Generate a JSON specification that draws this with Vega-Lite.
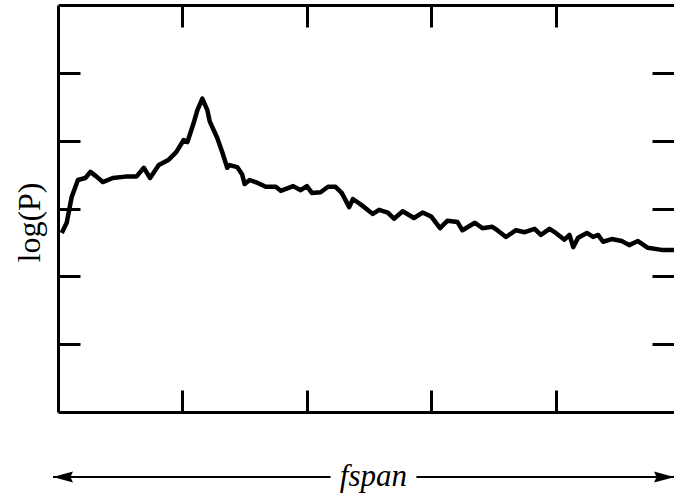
{
  "$schema": "https://vega.github.io/schema/vega-lite/v6.json",
  "width": 616,
  "height": 407,
  "autosize": {"type": "none"},
  "padding": {"left": 58, "top": 5, "right": 0, "bottom": 89},
  "background": "white",
  "config": {
    "view": {"stroke": null},
    "axis": {
      "labels": false,
      "grid": false,
      "ticks": true,
      "tickSize": -22,
      "tickWidth": 3,
      "tickColor": "black",
      "domainColor": "black",
      "domainWidth": 3,
      "titleFont": "Liberation Serif",
      "titleFontWeight": "normal",
      "titleColor": "black"
    }
  },
  "datasets": {
    "spectrum": [
      {"x": 0.03, "y": 2.64}, {"x": 0.07, "y": 2.79}, {"x": 0.11, "y": 3.17}, {"x": 0.16, "y": 3.42},
      {"x": 0.22, "y": 3.45}, {"x": 0.26, "y": 3.54}, {"x": 0.31, "y": 3.47}, {"x": 0.36, "y": 3.39},
      {"x": 0.44, "y": 3.45}, {"x": 0.54, "y": 3.47}, {"x": 0.63, "y": 3.47}, {"x": 0.69, "y": 3.60},
      {"x": 0.74, "y": 3.45}, {"x": 0.81, "y": 3.64}, {"x": 0.89, "y": 3.72}, {"x": 0.95, "y": 3.83},
      {"x": 1.01, "y": 4.01}, {"x": 1.04, "y": 3.98}, {"x": 1.09, "y": 4.26}, {"x": 1.12, "y": 4.45},
      {"x": 1.16, "y": 4.62}, {"x": 1.20, "y": 4.45}, {"x": 1.22, "y": 4.28}, {"x": 1.28, "y": 4.04},
      {"x": 1.32, "y": 3.83}, {"x": 1.36, "y": 3.60}, {"x": 1.38, "y": 3.64}, {"x": 1.44, "y": 3.61},
      {"x": 1.48, "y": 3.50}, {"x": 1.50, "y": 3.36}, {"x": 1.54, "y": 3.42}, {"x": 1.60, "y": 3.38},
      {"x": 1.67, "y": 3.32}, {"x": 1.75, "y": 3.32}, {"x": 1.79, "y": 3.26}, {"x": 1.89, "y": 3.33},
      {"x": 1.95, "y": 3.27}, {"x": 2.00, "y": 3.33}, {"x": 2.04, "y": 3.23}, {"x": 2.11, "y": 3.24},
      {"x": 2.17, "y": 3.32}, {"x": 2.23, "y": 3.32}, {"x": 2.28, "y": 3.23}, {"x": 2.34, "y": 3.02},
      {"x": 2.37, "y": 3.14}, {"x": 2.44, "y": 3.05}, {"x": 2.53, "y": 2.92}, {"x": 2.58, "y": 2.98},
      {"x": 2.65, "y": 2.94}, {"x": 2.70, "y": 2.85}, {"x": 2.77, "y": 2.96}, {"x": 2.86, "y": 2.86},
      {"x": 2.93, "y": 2.94}, {"x": 3.00, "y": 2.88}, {"x": 3.07, "y": 2.71}, {"x": 3.13, "y": 2.82},
      {"x": 3.21, "y": 2.80}, {"x": 3.25, "y": 2.68}, {"x": 3.35, "y": 2.79}, {"x": 3.41, "y": 2.71},
      {"x": 3.49, "y": 2.73}, {"x": 3.53, "y": 2.68}, {"x": 3.60, "y": 2.58}, {"x": 3.68, "y": 2.68},
      {"x": 3.75, "y": 2.65}, {"x": 3.83, "y": 2.70}, {"x": 3.88, "y": 2.61}, {"x": 3.95, "y": 2.70},
      {"x": 4.00, "y": 2.64}, {"x": 4.07, "y": 2.54}, {"x": 4.11, "y": 2.61}, {"x": 4.14, "y": 2.43},
      {"x": 4.18, "y": 2.57}, {"x": 4.25, "y": 2.64}, {"x": 4.30, "y": 2.58}, {"x": 4.34, "y": 2.61},
      {"x": 4.38, "y": 2.51}, {"x": 4.45, "y": 2.55}, {"x": 4.53, "y": 2.52}, {"x": 4.59, "y": 2.46},
      {"x": 4.66, "y": 2.52}, {"x": 4.74, "y": 2.42}, {"x": 4.85, "y": 2.39}, {"x": 4.95, "y": 2.39}
    ],
    "arrowLine": [
      {"x": -0.04, "x2": 2.19, "y": -0.96},
      {"x": 2.88, "x2": 4.95, "y": -0.96}
    ],
    "arrowHeads": [
      {"x": 0.04, "y": -0.96, "dir": "left"},
      {"x": 4.87, "y": -0.96, "dir": "right"}
    ],
    "axisLabel": [
      {"x": 2.535, "y": -0.96, "label": "fspan"}
    ]
  },
  "layer": [
    {
      "data": {"name": "spectrum"},
      "mark": {"type": "line", "color": "black", "strokeWidth": 4.5, "strokeJoin": "round"},
      "encoding": {
        "x": {"field": "x", "type": "quantitative", "scale": {"domain": [0, 4.95], "nice": false, "zero": false},
              "axis": {"orient": "bottom", "values": [1, 2, 3, 4], "title": null}},
        "y": {"field": "y", "type": "quantitative", "scale": {"domain": [0, 6], "nice": false},
              "axis": {"orient": "left", "values": [1, 2, 3, 4, 5], "title": "log(P)",
                       "titleFontSize": 32, "titleAngle": -90, "titleX": -29, "titleY": 217,
                       "titleAlign": "center", "titleBaseline": "middle"}}
      }
    },
    {
      "data": {"name": "arrowLine"},
      "mark": {"type": "rule", "color": "black", "strokeWidth": 2},
      "encoding": {
        "x": {"field": "x", "type": "quantitative", "scale": {"domain": [0, 4.95], "nice": false, "zero": false},
              "axis": {"orient": "top", "values": [1, 2, 3, 4], "title": null}},
        "x2": {"field": "x2"},
        "y": {"field": "y", "type": "quantitative", "scale": {"domain": [0, 6], "nice": false},
              "axis": {"orient": "right", "values": [1, 2, 3, 4, 5], "title": null, "domain": false}}
      }
    },
    {
      "data": {"name": "arrowHeads"},
      "mark": {"type": "point", "filled": true, "color": "black", "opacity": 1, "size": 400},
      "encoding": {
        "x": {"field": "x", "type": "quantitative", "scale": {"domain": [0, 4.95], "nice": false, "zero": false}, "axis": null},
        "y": {"field": "y", "type": "quantitative", "scale": {"domain": [0, 6], "nice": false}, "axis": null},
        "shape": {"field": "dir", "type": "nominal", "legend": null,
                  "scale": {"domain": ["left", "right"], "range": ["M-1,0L1,-0.55L0.75,0L1,0.55Z", "M1,0L-1,-0.55L-0.75,0L-1,0.55Z"]}}
      }
    },
    {
      "data": {"name": "axisLabel"},
      "mark": {"type": "text", "font": "Liberation Serif", "fontStyle": "italic", "fontSize": 31, "color": "black", "align": "center", "baseline": "middle"},
      "encoding": {
        "x": {"field": "x", "type": "quantitative", "scale": {"domain": [0, 4.95], "nice": false, "zero": false}, "axis": null},
        "y": {"field": "y", "type": "quantitative", "scale": {"domain": [0, 6], "nice": false}, "axis": null},
        "text": {"field": "label"}
      }
    }
  ],
  "resolve": {"scale": {"x": "independent", "y": "independent", "shape": "independent"}}
}
